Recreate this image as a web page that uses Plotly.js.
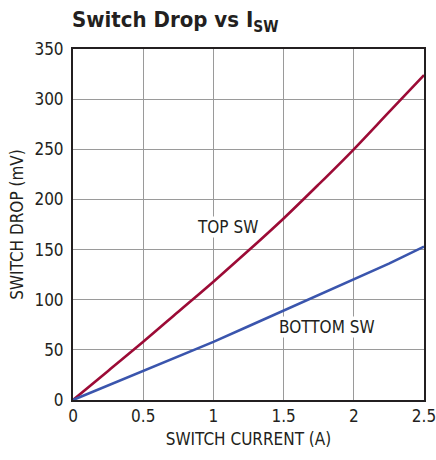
<!DOCTYPE html>
<html><head><meta charset="utf-8">
<script src="https://cdn.plot.ly/plotly-3.0.1.min.js"></script>
<style>body{margin:0;padding:0;background:#fff}#c{width:436px;height:460px}</style>
</head><body><div id="c"></div>
<script>
const current = [0, 0.25, 0.5, 0.75, 1, 1.25, 1.5, 1.75, 2, 2.25, 2.5];
const topSw = [0, 29, 58, 88, 118, 149, 181, 215, 250, 287, 324];
const bottomSw = [0, 14.5, 29, 43.5, 58, 73.5, 89, 104.5, 120, 136, 153];
const xTicks = [0, 0.5, 1, 1.5, 2, 2.5];
const xTickText = ['0', '0.5', '1', '1.5', '2', '2.5'];
const yTicks = [0, 50, 100, 150, 200, 250, 300, 350];

const F = '"DejaVu Sans Condensed", "Liberation Sans Narrow", "Liberation Sans", sans-serif';
const traces = [
  {x: current, y: topSw, mode: 'lines', line: {color: '#9c0b36', width: 2.6, shape: 'spline'}, name: 'TOP SW'},
  {x: current, y: bottomSw, mode: 'lines', line: {color: '#3a55ad', width: 2.6}, name: 'BOTTOM SW'}
];
const layout = {
  width: 436, height: 460,
  margin: {l: 72.5, r: 11.5, t: 49, b: 60},
  paper_bgcolor: '#fff', plot_bgcolor: '#fff',
  showlegend: false,
  title: {text: '<b>Switch Drop vs I<sub>SW</sub></b>', x: 72/436, xanchor: 'left', y: 0.958, yanchor: 'middle',
          font: {family: F, size: 22, color: '#231f20'}},
  xaxis: {range: [0, 2.5], tickvals: xTicks, ticktext: xTickText, showgrid: true, gridcolor: '#9a9a9a', gridwidth: 1,
          zeroline: false, showline: true, linecolor: '#231f20', linewidth: 2, mirror: true, ticks: '',
          ticklabeloverflow: 'allow',
          tickfont: {family: F, size: 17, color: '#231f20'},
          title: {text: 'SWITCH CURRENT (A)', font: {family: F, size: 17, color: '#231f20'}, standoff: 8}},
  yaxis: {range: [0, 350], tickvals: yTicks, showgrid: true, gridcolor: '#9a9a9a', gridwidth: 1,
          zeroline: false, showline: true, linecolor: '#231f20', linewidth: 2, mirror: true, ticks: '',
          tickfont: {family: F, size: 17, color: '#231f20'}, ticklabelstandoff: 4,
          title: {text: 'SWITCH DROP (mV)', font: {family: F, size: 17, color: '#231f20'}, standoff: 6}},
  annotations: [
    {x: 1.1, y: 173, text: 'TOP SW', showarrow: false, bgcolor: '#fff', font: {family: F, size: 17, color: '#231f20'}, borderpad: 0},
    {x: 1.81, y: 73, text: 'BOTTOM SW', showarrow: false, bgcolor: '#fff', font: {family: F, size: 17, color: '#231f20'}, borderpad: 0}
  ]
};
Plotly.newPlot('c', traces, layout, {staticPlot: true, displayModeBar: false});
</script></body></html>
